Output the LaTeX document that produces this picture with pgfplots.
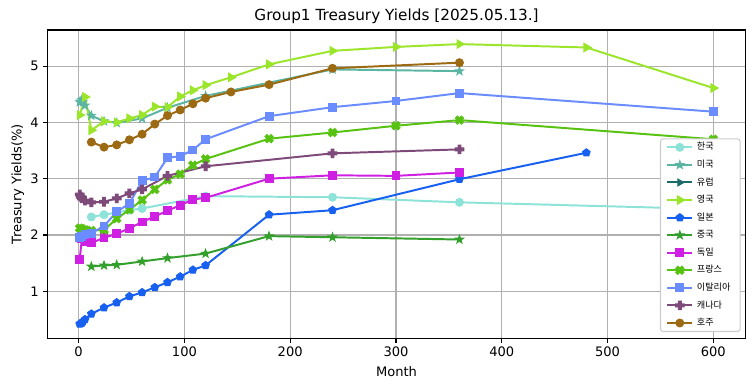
\documentclass[border=0pt]{standalone}
\usepackage{fontspec}
\setmainfont{DejaVu Sans}
\newfontfamily\kr{Noto Sans CJK KR}
\usepackage{pgfplots}
\pgfplotsset{compat=1.18}
\usetikzlibrary{plotmarks}

\definecolor{cKR}{HTML}{8DE3D8}
\definecolor{cUS}{HTML}{5AB5A3}
\definecolor{cEU}{HTML}{1D6B6B}
\definecolor{cUK}{HTML}{9BE52B}
\definecolor{cJP}{HTML}{1861F0}
\definecolor{cCN}{HTML}{33A02C}
\definecolor{cDE}{HTML}{CE1FE3}
\definecolor{cFR}{HTML}{57C212}
\definecolor{cIT}{HTML}{6A8CFF}
\definecolor{cCA}{HTML}{7E4A7A}
\definecolor{cAU}{HTML}{9B6A13}

\pgfdeclareplotmark{fstar}{%
  \pgfpathmoveto{\pgfqpointpolar{90}{1.05\pgfplotmarksize}}%
  \pgfpathlineto{\pgfqpointpolar{126}{0.42\pgfplotmarksize}}%
  \pgfpathlineto{\pgfqpointpolar{162}{1.05\pgfplotmarksize}}%
  \pgfpathlineto{\pgfqpointpolar{198}{0.42\pgfplotmarksize}}%
  \pgfpathlineto{\pgfqpointpolar{234}{1.05\pgfplotmarksize}}%
  \pgfpathlineto{\pgfqpointpolar{270}{0.42\pgfplotmarksize}}%
  \pgfpathlineto{\pgfqpointpolar{306}{1.05\pgfplotmarksize}}%
  \pgfpathlineto{\pgfqpointpolar{342}{0.42\pgfplotmarksize}}%
  \pgfpathlineto{\pgfqpointpolar{18}{1.05\pgfplotmarksize}}%
  \pgfpathlineto{\pgfqpointpolar{54}{0.42\pgfplotmarksize}}%
  \pgfpathclose\pgfusepathqfillstroke}
\pgfdeclareplotmark{fplus}{%
  \pgfpathmoveto{\pgfqpointpolar{108.3}{1.15\pgfplotmarksize}}%
  \pgfpathlineto{\pgfqpointpolar{71.7}{1.15\pgfplotmarksize}}%
  \pgfpathlineto{\pgfqpointpolar{45}{0.51\pgfplotmarksize}}%
  \pgfpathlineto{\pgfqpointpolar{18.3}{1.15\pgfplotmarksize}}%
  \pgfpathlineto{\pgfqpointpolar{-18.3}{1.15\pgfplotmarksize}}%
  \pgfpathlineto{\pgfqpointpolar{-45}{0.51\pgfplotmarksize}}%
  \pgfpathlineto{\pgfqpointpolar{-71.7}{1.15\pgfplotmarksize}}%
  \pgfpathlineto{\pgfqpointpolar{-108.3}{1.15\pgfplotmarksize}}%
  \pgfpathlineto{\pgfqpointpolar{-135}{0.51\pgfplotmarksize}}%
  \pgfpathlineto{\pgfqpointpolar{-161.7}{1.15\pgfplotmarksize}}%
  \pgfpathlineto{\pgfqpointpolar{161.7}{1.15\pgfplotmarksize}}%
  \pgfpathlineto{\pgfqpointpolar{135}{0.51\pgfplotmarksize}}%
  \pgfpathclose\pgfusepathqfillstroke}
\pgfdeclareplotmark{fcross}{%
  \pgfpathmoveto{\pgfqpointpolar{153.3}{1.15\pgfplotmarksize}}%
  \pgfpathlineto{\pgfqpointpolar{116.7}{1.15\pgfplotmarksize}}%
  \pgfpathlineto{\pgfqpointpolar{90}{0.51\pgfplotmarksize}}%
  \pgfpathlineto{\pgfqpointpolar{63.3}{1.15\pgfplotmarksize}}%
  \pgfpathlineto{\pgfqpointpolar{26.7}{1.15\pgfplotmarksize}}%
  \pgfpathlineto{\pgfqpointpolar{0}{0.51\pgfplotmarksize}}%
  \pgfpathlineto{\pgfqpointpolar{-26.7}{1.15\pgfplotmarksize}}%
  \pgfpathlineto{\pgfqpointpolar{-63.3}{1.15\pgfplotmarksize}}%
  \pgfpathlineto{\pgfqpointpolar{-90}{0.51\pgfplotmarksize}}%
  \pgfpathlineto{\pgfqpointpolar{-116.7}{1.15\pgfplotmarksize}}%
  \pgfpathlineto{\pgfqpointpolar{-153.3}{1.15\pgfplotmarksize}}%
  \pgfpathlineto{\pgfqpointpolar{180}{0.51\pgfplotmarksize}}%
  \pgfpathclose\pgfusepathqfillstroke}

\begin{document}
\begin{tikzpicture}
\begin{axis}[
  scale only axis, width=531.8bp, height=235bp,
  xmin=-29, xmax=630, ymin=0.17, ymax=5.64,
  xtick={0,100,200,300,400,500,600}, ytick={1,2,3,4,5},
  /pgf/number format/assume math mode=true,
  tick label style={font=\fontsize{10}{12}\selectfont},
  label style={font=\fontsize{10}{12}\selectfont},
  ylabel style={yshift=-2bp},
  tick pos=left, tick align=outside, major tick length=3.5bp,
  tick style={black, line width=0.8bp},
  axis line style={line width=0.8bp},
  grid=major, grid style={color=black!31, line width=0.8bp},
  title={Group1 Treasury Yields [2025.05.13.]},
  title style={font=\fontsize{11.7}{13}\selectfont, yshift=-4.5bp},
  xlabel={Month}, ylabel={Treasury Yields(\%)},
  every axis plot/.append style={line width=1.5bp, mark size=3bp, mark options={solid, line width=0.8bp, sharp corners}},
  legend cell align=left,
  legend image code/.code={\draw[sharp corners, mark repeat=2, mark phase=2] plot coordinates {(0bp,0bp) (9.5bp,0bp) (19bp,0bp)};},
  legend style={at={(0.9937,0.0195)}, anchor=south east, draw=black!20, line width=0.8bp,
    rounded corners=2bp, fill=white, font=\kr\fontsize{7}{8}\selectfont,
    inner xsep=4.5bp, inner ysep=3bp, row sep=6.4bp,
    nodes={inner sep=0pt, text height=5.5bp, text depth=1.5bp, inner xsep=2.8bp}},
]
\addplot[cKR, mark=*] coordinates {(12,2.32) (24,2.36) (36,2.40) (48,2.44) (60,2.47) (120,2.69) (240,2.67) (360,2.58) (600,2.46)};
\addlegendentry{한국}
\addplot[cUS, mark=fstar] coordinates {(1,4.36) (2,4.37) (3,4.40) (4,4.36) (6,4.30) (12,4.12) (24,4.02) (36,3.99) (60,4.07) (84,4.26) (120,4.47) (240,4.94) (360,4.91)};
\addlegendentry{미국}
\addlegendimage{cEU, line width=1.5bp, mark=triangle*, mark size=3bp, mark options={solid, rotate=-90, line width=0.8bp, sharp corners}}
\addlegendentry{유럽}
\addplot[cUK, mark=triangle*, mark options={rotate=-90}] coordinates {(1,4.13) (6,4.45) (12,3.86) (24,4.02) (36,4.00) (48,4.07) (60,4.13) (72,4.28) (84,4.27) (96,4.46) (108,4.57) (120,4.66) (144,4.80) (180,5.03) (240,5.27) (300,5.34) (360,5.39) (480,5.33) (600,4.61)};
\addlegendentry{영국}
\addplot[cJP, mark=pentagon*] coordinates {(1,0.42) (2,0.43) (3,0.44) (4,0.46) (6,0.50) (12,0.60) (24,0.71) (36,0.80) (48,0.91) (60,0.98) (72,1.07) (84,1.16) (96,1.26) (108,1.38) (120,1.46) (180,2.36) (240,2.44) (360,2.99) (480,3.46)};
\addlegendentry{일본}
\addplot[cCN, mark=fstar] coordinates {(12,1.44) (24,1.46) (36,1.47) (60,1.53) (84,1.59) (120,1.67) (180,1.98) (240,1.96) (360,1.92)};
\addlegendentry{중국}
\addplot[cDE, mark=square*] coordinates {(1,1.57) (3,1.93) (6,1.89) (12,1.86) (24,1.95) (36,2.02) (48,2.12) (60,2.23) (72,2.33) (84,2.43) (96,2.53) (108,2.63) (120,2.66) (180,3.00) (240,3.06) (300,3.05) (360,3.11)};
\addlegendentry{독일}
\addplot[cFR, mark=fcross] coordinates {(1,2.12) (3,2.11) (6,2.09) (12,2.08) (24,2.09) (36,2.29) (48,2.45) (60,2.62) (72,2.81) (84,2.98) (96,3.08) (108,3.24) (120,3.35) (180,3.71) (240,3.82) (300,3.94) (360,4.04) (600,3.70)};
\addlegendentry{프랑스}
\addplot[cIT, mark=square*] coordinates {(1,1.95) (3,1.97) (6,2.01) (12,2.03) (24,2.16) (36,2.41) (48,2.56) (60,2.96) (72,3.03) (84,3.37) (96,3.40) (108,3.51) (120,3.70) (180,4.11) (240,4.27) (300,4.38) (360,4.52) (600,4.19)};
\addlegendentry{이탈리아}
\addplot[cCA, mark=fplus] coordinates {(1,2.72) (2,2.68) (3,2.65) (6,2.61) (12,2.58) (24,2.59) (36,2.65) (48,2.74) (60,2.81) (84,3.05) (120,3.22) (240,3.45) (360,3.52)};
\addlegendentry{캐나다}
\addplot[cAU, mark=*] coordinates {(12,3.65) (24,3.56) (36,3.60) (48,3.69) (60,3.79) (72,3.97) (84,4.12) (96,4.22) (108,4.33) (120,4.43) (144,4.54) (180,4.67) (240,4.96) (360,5.06)};
\addlegendentry{호주}
\end{axis}
\pgfresetboundingbox
\path[use as bounding box] ([shift={(-36.6bp,-40.4bp)}]current axis.south west) rectangle ++(576bp,298.3bp);
\end{tikzpicture}
\end{document}
